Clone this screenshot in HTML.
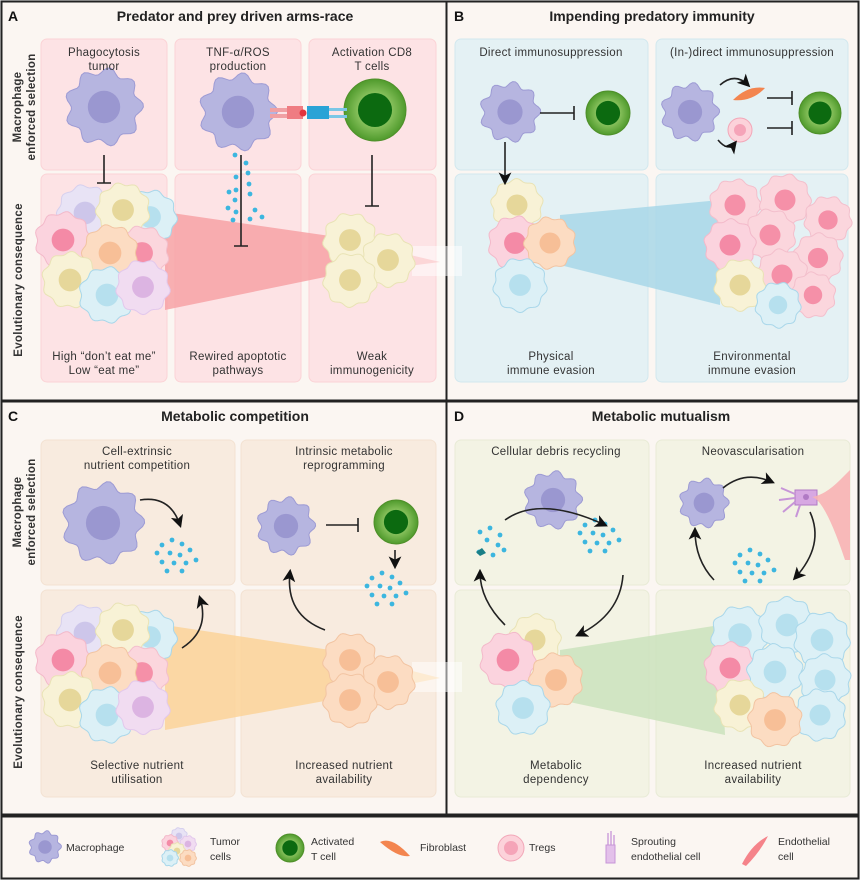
<!DOCTYPE html>
<html><head><meta charset="utf-8">
<style>
html,body{margin:0;padding:0;background:#fff;}
svg{display:block;font-family:"Liberation Sans",sans-serif;}
.t{font-size:14px;font-weight:bold;fill:#222;text-anchor:middle}
.l{font-size:14px;font-weight:bold;fill:#111}
.s{font-size:11.5px;fill:#333;text-anchor:middle;letter-spacing:0.3px}
.v{font-size:11.5px;font-weight:bold;fill:#333;text-anchor:middle;letter-spacing:0.3px}
.g{font-size:10.5px;fill:#333}
</style></head><body>
<svg id="s" width="860" height="880" viewBox="0 0 860 880" xmlns="http://www.w3.org/2000/svg">
<defs>
<marker id="ah" markerWidth="8" markerHeight="8" refX="6" refY="4" orient="auto"><path d="M0,0 L8,4 L0,8 L2,4z" fill="#111"/></marker>
<radialGradient id="tg"><stop offset="0.5" stop-color="#8cc460"/><stop offset="1" stop-color="#4f9a2c"/></radialGradient>
</defs>
<rect x="0" y="0" width="860" height="880" fill="#e9e9e9"/>
<rect x="1.5" y="1.5" width="445" height="399" fill="#fbf6f2" stroke="#222" stroke-width="2"/>
<rect x="446.5" y="1.5" width="412" height="399" fill="#fbf6f2" stroke="#222" stroke-width="2"/>
<rect x="1.5" y="401.5" width="445" height="413" fill="#fbf6f2" stroke="#222" stroke-width="2"/>
<rect x="446.5" y="401.5" width="412" height="413" fill="#fbf6f2" stroke="#222" stroke-width="2"/>
<rect x="1.5" y="816.5" width="857" height="62" fill="#fbf6f2" stroke="#222" stroke-width="2"/>
<g fill="#fde3e5" stroke="#fbd3d6">
<rect x="41" y="39" width="126" height="131" rx="6"/><rect x="175" y="39" width="126" height="131" rx="6"/><rect x="309" y="39" width="127" height="131" rx="6"/>
<rect x="41" y="174" width="126" height="208" rx="6"/><rect x="175" y="174" width="126" height="208" rx="6"/><rect x="309" y="174" width="127" height="208" rx="6"/>
</g>
<g fill="#e4f1f4" stroke="#d2e8ee">
<rect x="455" y="39" width="193" height="131" rx="6"/><rect x="656" y="39" width="192" height="131" rx="6"/>
<rect x="455" y="174" width="193" height="208" rx="6"/><rect x="656" y="174" width="192" height="208" rx="6"/>
</g>
<g fill="#f8ebdf" stroke="#f3e2d2">
<rect x="41" y="440" width="194" height="145" rx="6"/><rect x="241" y="440" width="195" height="145" rx="6"/>
<rect x="41" y="590" width="194" height="207" rx="6"/><rect x="241" y="590" width="195" height="207" rx="6"/>
</g>
<g fill="#f3f3e4" stroke="#e8ebd6">
<rect x="455" y="440" width="194" height="145" rx="6"/><rect x="656" y="440" width="194" height="145" rx="6"/>
<rect x="455" y="590" width="194" height="207" rx="6"/><rect x="656" y="590" width="194" height="207" rx="6"/>
</g>
<polygon points="165,212 330,236 440,262 330,276 165,310" fill="#f7a2a6" opacity="0.85"/>
<rect x="412" y="246" width="50" height="30" fill="#fff" opacity="0.5"/>
<polygon points="560,215 720,200 720,305 560,265" fill="#a8d7e8" opacity="0.85"/>
<polygon points="165,625 330,650 440,678 330,700 165,730" fill="#fbd39a" opacity="0.85"/>
<rect x="412" y="662" width="50" height="30" fill="#fff" opacity="0.5"/>
<polygon points="560,650 720,625 725,735 560,700" fill="#cde3bf" opacity="0.9"/>
<g id="cells"></g>
<text class="l" x="8" y="21">A</text><text class="t" x="235" y="21">Predator and prey driven arms-race</text>
<text class="l" x="454" y="21">B</text><text class="t" x="652" y="21">Impending predatory immunity</text>
<text class="l" x="8" y="421">C</text><text class="t" x="235" y="421">Metabolic competition</text>
<text class="l" x="454" y="421">D</text><text class="t" x="661" y="421">Metabolic mutualism</text>
<g class="v">
<text transform="translate(21,107) rotate(-90)">Macrophage</text>
<text transform="translate(35,107) rotate(-90)">enforced selection</text>
<text transform="translate(22,280) rotate(-90)">Evolutionary consequence</text>
<text transform="translate(21,512) rotate(-90)">Macrophage</text>
<text transform="translate(35,512) rotate(-90)">enforced selection</text>
<text transform="translate(22,692) rotate(-90)">Evolutionary consequence</text>
</g>
<g class="s">
<text x="104" y="56">Phagocytosis</text><text x="104" y="70">tumor</text>
<text x="238" y="56">TNF-α/ROS</text><text x="238" y="70">production</text>
<text x="372" y="56">Activation CD8</text><text x="372" y="70">T cells</text>
<text x="104" y="360">High “don’t eat me”</text><text x="104" y="374">Low “eat me”</text>
<text x="238" y="360">Rewired apoptotic</text><text x="238" y="374">pathways</text>
<text x="372" y="360">Weak</text><text x="372" y="374">immunogenicity</text>
<text x="551" y="56">Direct immunosuppression</text>
<text x="752" y="56">(In-)direct immunosuppression</text>
<text x="551" y="360">Physical</text><text x="551" y="374">immune evasion</text>
<text x="752" y="360">Environmental</text><text x="752" y="374">immune evasion</text>
<text x="137" y="455">Cell-extrinsic</text><text x="137" y="469">nutrient competition</text>
<text x="344" y="455">Intrinsic metabolic</text><text x="344" y="469">reprogramming</text>
<text x="137" y="769">Selective nutrient</text><text x="137" y="783">utilisation</text>
<text x="344" y="769">Increased nutrient</text><text x="344" y="783">availability</text>
<text x="556" y="455">Cellular debris recycling</text>
<text x="753" y="455">Neovascularisation</text>
<text x="556" y="769">Metabolic</text><text x="556" y="783">dependency</text>
<text x="753" y="769">Increased nutrient</text><text x="753" y="783">availability</text>
</g>
<g stroke="#222" stroke-width="1.6" fill="none">
<path d="M104,155 V183 M97,183 H111"/>
<path d="M241,155 V246 M234,246 H248"/>
<path d="M372,155 V206 M365,206 H379"/>
<path d="M540,113 H574 M574,106 V120"/>
<path d="M767,98 H792 M792,91 V105"/>
<path d="M767,128 H792 M792,121 V135"/>
<path d="M505,142 V182" marker-end="url(#ah)"/>
<path d="M720,85 Q735,72 748,85" marker-end="url(#ah)"/>
<path d="M718,140 Q728,152 735,143" marker-end="url(#ah)"/>
<path d="M140,500 Q170,495 180,525" marker-end="url(#ah)"/>
<path d="M182,648 Q210,630 200,598" marker-end="url(#ah)"/>
<path d="M326,525 H358 M358,518 V532"/>
<path d="M395,550 V566" marker-end="url(#ah)"/>
<path d="M325,630 Q285,615 290,572" marker-end="url(#ah)"/>
<path d="M505,520 Q540,495 605,525" marker-end="url(#ah)"/>
<path d="M623,575 Q620,615 578,635" marker-end="url(#ah)"/>
<path d="M505,625 Q480,600 480,572" marker-end="url(#ah)"/>
<path d="M723,488 Q745,470 772,482" marker-end="url(#ah)"/>
<path d="M810,512 Q825,545 795,578" marker-end="url(#ah)"/>
<path d="M714,580 Q695,560 695,530" marker-end="url(#ah)"/>
</g>
<g>
<rect x="270" y="108" width="18" height="4" fill="#f0a0a4"/><rect x="270" y="114" width="18" height="4" fill="#f0a0a4"/>
<rect x="287" y="106" width="16" height="13" fill="#ef7c82"/><circle cx="303" cy="113" r="3.5" fill="#e2343d"/>
<rect x="307" y="106" width="22" height="13" fill="#2aa3d6"/><rect x="329" y="108" width="18" height="3" fill="#7bc7e6"/><rect x="329" y="115" width="18" height="3" fill="#7bc7e6"/>
</g>
<path d="M840,480 Q825,495 812,497 Q825,500 845,560 L850,560 L850,470z" fill="#f8b2b4" opacity="0.9"/>
<g class="g">
<text x="66" y="851">Macrophage</text>
<text x="210" y="845">Tumor</text><text x="210" y="860">cells</text>
<text x="311" y="845">Activated</text><text x="311" y="860">T cell</text>
<text x="420" y="851">Fibroblast</text>
<text x="529" y="851">Tregs</text>
<text x="631" y="845">Sprouting</text><text x="631" y="860">endothelial cell</text>
<text x="778" y="845">Endothelial</text><text x="778" y="860">cell</text>
</g>
</svg>
<script>
var NS="http://www.w3.org/2000/svg",G=document.getElementById("cells");
function el(t,a){var e=document.createElementNS(NS,t);for(var k in a)e.setAttribute(k,a[k]);G.appendChild(e);return e;}
function wavy(cx,cy,r,n,amp,rot){var d="";for(var i=0;i<=72;i++){var t=i/72*2*Math.PI;var rr=r*(1+amp*Math.cos(n*t+(rot||0)));d+=(i?"L":"M")+(cx+rr*Math.cos(t)).toFixed(1)+","+(cy+rr*Math.sin(t)).toFixed(1);}return d+"Z";}
var C={y:["#f8f2d6","#e6d79a","#e9e3b5"],p:["#fbd3de","#f48aa6","#f3b9ca"],b:["#dcf0f6","#b6e0ee","#a9d7ea"],o:["#fcdcc2","#f7bf97","#f2c4a2"],l:["#e8e3f5","#cdc6ea","#d6d0ee"],m:["#f1dcf1","#dcb4e2","#e2c8ec"],r:["#fbd6dd","#f590a8","#f3bfcc"]};
function tumor(cx,cy,r,c){var k=C[c];el("path",{d:wavy(cx,cy,r,9,0.06,cx),fill:k[0],stroke:k[2],"stroke-width":1});el("circle",{cx:cx,cy:cy,r:r*0.42,fill:k[1]});}
function mac(cx,cy,r){el("path",{d:wavy(cx,cy,r,9,0.1,0.3),fill:"#b6b5e0",stroke:"#9d9bd4","stroke-width":1});el("circle",{cx:cx,cy:cy,r:r*0.45,fill:"#9a97d0"});}
function tcell(cx,cy,r){el("circle",{cx:cx,cy:cy,r:r,fill:"url(#tg)",stroke:"#4f8f2a"});el("circle",{cx:cx,cy:cy,r:r*0.55,fill:"#0c6a10"});}
function dots(pts){pts.forEach(function(p){el("circle",{cx:p[0],cy:p[1],r:2.4,fill:"#3cb6df"});});}
function cloud(x,y){dots([[x,y],[x+10,y-5],[x+20,y-1],[x-5,y+8],[x+8,y+8],[x+18,y+10],[x+28,y+5],[x,y+17],[x+12,y+18],[x+24,y+18],[x+34,y+15],[x+5,y+26],[x+20,y+26]]);}
function cluster(ox,oy){tumor(ox+50,oy+28,27,"l");tumor(ox+115,oy+32,26,"b");tumor(ox+88,oy+25,26,"y");tumor(ox+28,oy+55,27,"p");tumor(ox+107,oy+68,26,"r");tumor(ox+75,oy+68,27,"o");tumor(ox+35,oy+95,27,"y");tumor(ox+72,oy+110,27,"b");tumor(ox+108,oy+102,26,"m");}
mac(104,107,36);mac(238,112,36);tcell(375,110,31);
dots([[235,155],[246,163],[236,177],[248,173],[236,190],[249,184],[229,192],[235,200],[250,194],[228,208],[236,212],[255,210],[233,220],[250,219],[262,217]]);
cluster(35,185);
tumor(350,240,26,"y");tumor(388,260,26,"y");tumor(350,280,26,"y");
mac(510,112,28);tcell(608,113,22);mac(690,112,27);tcell(820,113,21);
el("path",{d:"M733,100 Q748,85 765,88 Q752,102 733,100Z",fill:"#f3854f"});
el("circle",{cx:740,cy:130,r:12,fill:"#fcd2da",stroke:"#f2a7b8"});el("circle",{cx:740,cy:130,r:6,fill:"#f5a4b8"});
tumor(517,205,25,"y");tumor(515,243,26,"p");tumor(550,243,25,"o");tumor(520,285,26,"b");
tumor(735,205,25,"r");tumor(785,200,25,"r");tumor(828,220,23,"r");tumor(770,235,25,"r");tumor(730,245,25,"p");tumor(818,258,24,"r");tumor(782,275,25,"r");tumor(740,285,25,"y");tumor(813,295,22,"r");tumor(778,305,22,"b");
mac(103,523,38);cloud(162,545);mac(286,526,27);tcell(396,522,22);cloud(372,578);
cluster(35,605);
tumor(350,660,26,"o");tumor(388,682,26,"o");tumor(350,700,26,"o");
mac(553,500,27);cloud(585,525);
dots([[480,532],[490,528],[500,535],[487,540],[498,545],[479,552],[493,555],[504,550]]);
el("path",{d:"M476,552 l6,-4 l4,5 l-6,3z",fill:"#1a7f86"});
mac(704,503,23);
el("rect",{x:795,y:490,width:22,height:15,fill:"#d7a8e2",stroke:"#b07ac4"});el("circle",{cx:806,cy:497,r:3,fill:"#b07ac4"});
el("path",{d:"M795,494 l-14,-6 M795,498 l-16,2 M795,502 l-12,10 M800,505 l-4,12",stroke:"#c795d8","stroke-width":2,fill:"none"});
cloud(740,555);
tumor(535,640,25,"y");tumor(508,660,27,"p");tumor(556,680,26,"o");tumor(523,708,26,"b");
tumor(740,635,28,"b");tumor(787,625,27,"b");tumor(822,640,27,"b");tumor(730,668,25,"p");tumor(775,672,27,"b");tumor(825,680,25,"b");tumor(740,705,25,"y");tumor(820,715,25,"b");tumor(775,720,26,"o");
// legend
mac(45,847,15);
tumor(179,836,8,"l");tumor(170,843,8,"p");tumor(188,844,8,"m");tumor(177,851,8,"y");tumor(170,858,8,"b");tumor(188,858,8,"o");
tcell(290,848,14);
el("path",{d:"M380,842 Q392,836 410,856 Q398,858 380,842Z",fill:"#f3854f"});
el("circle",{cx:511,cy:848,r:13,fill:"#fcd2da",stroke:"#f2a7b8"});el("circle",{cx:511,cy:848,r:7,fill:"#f5a4b8"});
el("rect",{x:606,y:845,width:9,height:18,fill:"#e3c0ea",stroke:"#c795d8"});
el("path",{d:"M608,845 v-12 M611,845 v-14 M614,845 v-10",stroke:"#c795d8","stroke-width":1.3});
el("path",{d:"M742,864 Q752,844 768,836 Q760,852 746,866Z",fill:"#f5838a"});
</script>
</body></html>
